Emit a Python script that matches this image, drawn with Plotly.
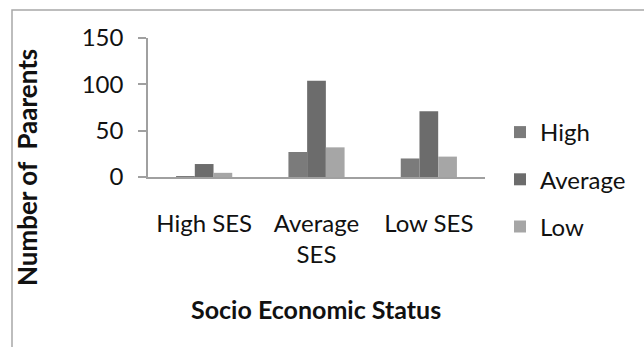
import plotly.graph_objects as go

categories = ["High SES", "Average<br>SES", "Low SES"]
series_names = ["High", "Average", "Low"]
high_vals = [1, 27, 20]
average_vals = [14, 104, 71]
low_vals = [4.5, 32, 22]
colors = ["#7b7b7b", "#6c6c6c", "#a6a6a6"]

W, H = 644, 347
L, R, T, B = 148, 159, 38, 170
pw, ph = W - L - R, H - T - B

def px_to_paper(x, y):
    return (x - L) / pw, (H - B - y) / ph

FONT = "Lato"

fig = go.Figure()
for name, vals, col in zip(series_names, [high_vals, average_vals, low_vals], colors):
    fig.add_trace(go.Bar(x=categories, y=vals, name=name, marker_color=col,
                         marker_line_width=0, legendgroup=name))

lx, ly = px_to_paper(500, 110)
fig.update_layout(
    width=W, height=H,
    margin=dict(l=L, r=R, t=T, b=B),
    paper_bgcolor="white", plot_bgcolor="white",
    barmode="group", bargap=0.5, bargroupgap=0,
    font=dict(family=FONT, size=24, color="#111111"),
    showlegend=True,
    legend=dict(x=lx, y=ly, xanchor="left", yanchor="top",
                font=dict(size=24, family=FONT), tracegroupgap=13,
                bgcolor="rgba(0,0,0,0)", itemwidth=30, maxheight=400),
    xaxis=dict(showgrid=False, showline=True, linecolor="#a0a0a0", linewidth=1.5,
               ticks="", tickfont=dict(size=24, family=FONT), ticklabelstandoff=24),
    yaxis=dict(range=[0, 150], dtick=50, showgrid=False, showline=True,
               linecolor="#a0a0a0", linewidth=1.5, ticks="outside", ticklen=8,
               tickcolor="#a0a0a0", tickwidth=1.5, zeroline=False,
               tickfont=dict(size=24, family=FONT), ticklabelstandoff=10),
)

# axis titles as annotations
tx, ty = px_to_paper(27, 168)
fig.add_annotation(text="<b>Number of \u00a0Paarents</b>", xref="paper", yref="paper",
                   x=tx, y=ty, xanchor="center", yanchor="middle", textangle=-90,
                   showarrow=False, font=dict(size=26, family=FONT, color="#111111"))
ax, ay = px_to_paper(316, 309)
fig.add_annotation(text="<b>Socio Economic Status</b>", xref="paper", yref="paper",
                   x=ax, y=ay, xanchor="center", yanchor="middle",
                   showarrow=False, font=dict(size=25, family=FONT, color="#111111"))

# chart border
x0, y0 = px_to_paper(12, 10)
x1, y1 = px_to_paper(660, 370)
fig.add_shape(type="rect", xref="paper", yref="paper", x0=x0, y0=y0, x1=x1, y1=y1,
              line=dict(color="#a8a8a8", width=1.5), layer="below")
# extend x axis line to the left under the ticks
xa, _ = px_to_paper(140, 177)
fig.add_shape(type="line", xref="paper", yref="paper", x0=xa, y0=0, x1=0, y1=0,
              line=dict(color="#a0a0a0", width=1.5))

fig.write_html("out.html")
